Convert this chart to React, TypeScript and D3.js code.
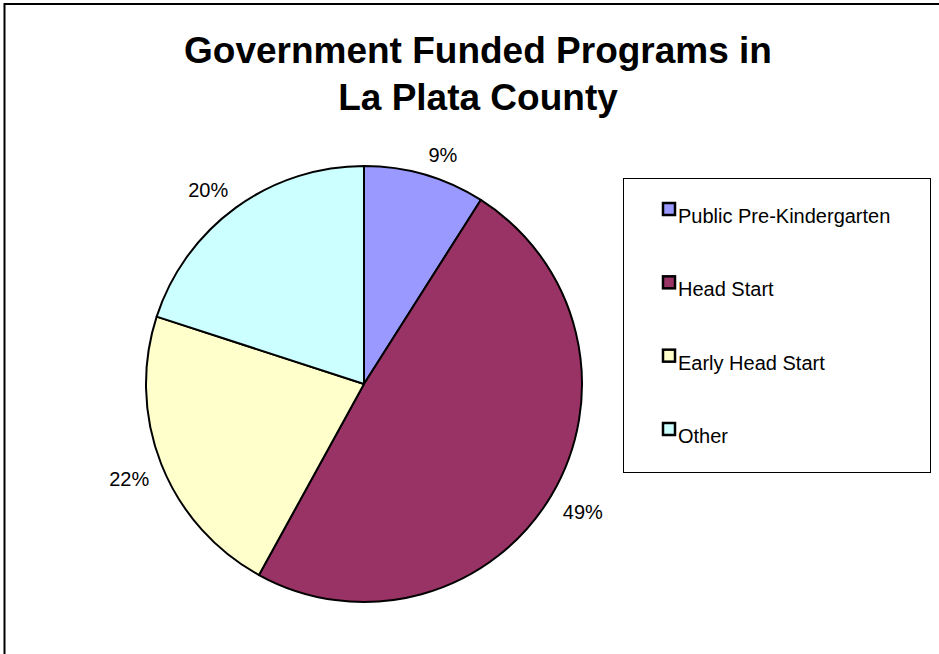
import React from "react";
import * as d3 from "d3";

const categories = [
  "Public Pre-Kindergarten",
  "Head Start",
  "Early Head Start",
  "Other",
];
const values = [9, 49, 22, 20];
const colors = ["#9999FF", "#993366", "#FFFFCC", "#CCFFFF"];
const titleLines = ["Government Funded Programs in", "La Plata County"];

const W = 939;
const H = 654;
const FONT = "Arial, 'Liberation Sans', sans-serif";

export default function App() {
  const cx = 364;
  const cy = 384;
  const r = 218;

  const pie = d3
    .pie<number>()
    .sort(null)
    .value((d) => d)
    .startAngle(0)
    .endAngle(2 * Math.PI);
  const arcs = pie(values);
  const arc = d3.arc<d3.PieArcDatum<number>>().innerRadius(0).outerRadius(r);

  const total = d3.sum(values);
  const fmt = (v: number) => `${Math.round((v / total) * 100)}%`;

  // label: the corner of the text nearest the pie sits just outside the rim
  const labelArc = d3
    .arc<d3.PieArcDatum<number>>()
    .innerRadius(r + 13)
    .outerRadius(r + 13);
  const labelPos = (d: d3.PieArcDatum<number>) => {
    const [x, y] = labelArc.centroid(d);
    const anchor = x >= 0 ? "start" : "end";
    const baseline = y < 0 ? y : y + 17;
    return { x, y: baseline, anchor, text: fmt(d.data) };
  };

  // legend
  const legend = { x: 623, y: 178, w: 307, h: 294 };
  const rowY = d3
    .scalePoint<string>()
    .domain(categories)
    .range([209, 429]);

  return (
    <svg
      width={W}
      height={H}
      style={{ position: "absolute", left: 0, top: 0, background: "#fff" }}
      fontFamily={FONT}
    >
      <rect x={0} y={0} width={W} height={H} fill="#fff" />
      <rect
        x={4.5}
        y={4}
        width={W + 10}
        height={H + 10}
        fill="none"
        stroke="#000"
        strokeWidth={2}
      />

      {titleLines.map((t, i) => (
        <text
          key={t}
          x={478}
          y={63 + i * 47}
          textAnchor="middle"
          fontSize={37}
          fontWeight="bold"
          fill="#000"
        >
          {t}
        </text>
      ))}

      <g transform={`translate(${cx},${cy})`}>
        {arcs.map((d, i) => (
          <path
            key={categories[i]}
            d={arc(d) || ""}
            fill={colors[i]}
            stroke="#000"
            strokeWidth={2}
            strokeLinejoin="round"
          />
        ))}
        {arcs.map((d, i) => {
          const p = labelPos(d);
          return (
            <text
              key={`l-${categories[i]}`}
              x={p.x}
              y={p.y}
              textAnchor={p.anchor}
              fontSize={20}
              fill="#000"
            >
              {p.text}
            </text>
          );
        })}
      </g>

      <rect
        x={legend.x + 0.5}
        y={legend.y + 0.5}
        width={legend.w}
        height={legend.h}
        fill="#fff"
        stroke="#000"
        strokeWidth={1}
      />
      {categories.map((c, i) => {
        const y = rowY(c) || 0;
        return (
          <g key={`lg-${c}`}>
            <rect
              x={663}
              y={y - 6}
              width={12}
              height={12}
              fill={colors[i]}
              stroke="#000"
              strokeWidth={2.5}
            />
            <text x={678} y={y + 14} fontSize={20} fill="#000">
              {c}
            </text>
          </g>
        );
      })}
    </svg>
  );
}
